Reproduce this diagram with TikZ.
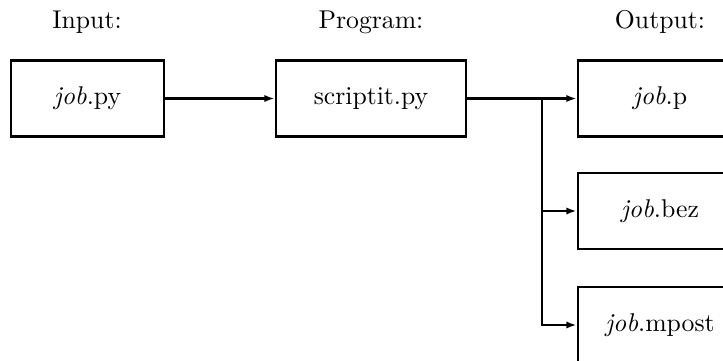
\documentclass[tikz,border=0pt]{standalone}
\usetikzlibrary{arrows.meta}
\begin{document}
\begin{tikzpicture}[x=0.389pt,y=-0.389pt,
  box/.style={draw,line width=1.05pt,minimum height=29.6pt,inner sep=0pt,font=\normalsize},
  conn/.style={line width=0.78pt,-{Latex[length=4pt,width=2.8pt]}},
  lab/.style={anchor=base,inner sep=0pt}]
\useasboundingbox (0,0) rectangle (723,360);
\clip (0,0) rectangle (723,360);
\node[lab] (lin) at (87,29) {Input:};
\node[lab] (lpr) at (371,29) {Program:};
\node[lab] (lout) at (660,29) {Output:};
\node[box,minimum width=59.5pt] (in) at (87.5,98.5) {\textit{job}.py};
\node[box,minimum width=73.9pt] (sc) at (371,98.5) {scriptit.py};
\node[box,minimum width=63.8pt] (o1) at (660,98.5) {\textit{job}.p};
\node[box,minimum width=63.8pt] (o2) at (660,211) {\textit{job}.bez};
\node[box,minimum width=63.8pt] (o3) at (660,325) {\textit{job}.mpost};
\coordinate (j) at (542,98.5);
\draw[conn] (in.east) -- (sc.west);
\draw[conn] (sc.east) -- (o1.west);
\draw[conn] (j) |- (o2.west);
\draw[conn] (j) |- (o3.west);
\end{tikzpicture}
\end{document}
